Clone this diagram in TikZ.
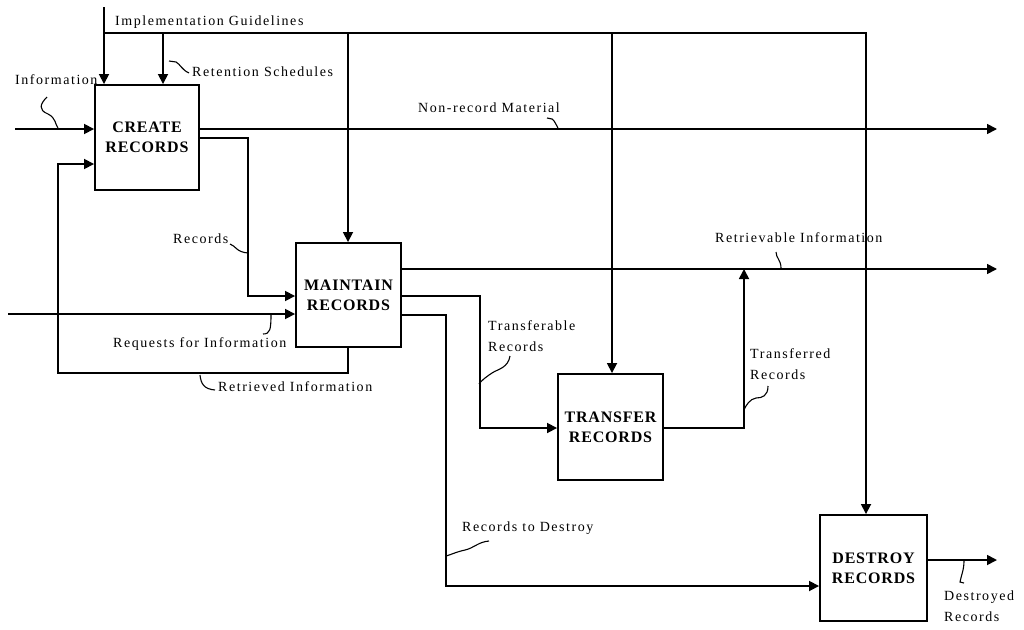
\documentclass[tikz,border=0pt]{standalone}
\usepackage{fontspec}
\setmainfont{Liberation Serif}
\newfontfamily\lblfont[LetterSpace=11]{Liberation Serif}
\newfontfamily\boxfont[LetterSpace=5]{Liberation Serif}
\usetikzlibrary{arrows.meta}
\begin{document}
\begin{tikzpicture}[x=1pt,y=-1pt,
  proc/.style={draw,line width=1.9pt,inner sep=0pt,align=center,
    font=\boxfont\bfseries\fontsize{16}{20}\selectfont},
  flow/.style={draw,line width=1.7pt,-{Triangle[length=10pt,width=10pt]}},
  squig/.style={draw,line width=1.1pt},
  lbl/.style={inner sep=0pt,anchor=west,align=left,
    font=\lblfont\fontsize{14}{21}\selectfont}]
\useasboundingbox (0,0) rectangle (1024,629);

% boxes
\node[proc,minimum width=104pt,minimum height=105pt] (create) at (147,137.5) {CREATE\\RECORDS};
\node[proc,minimum width=105pt,minimum height=104pt] (maintain) at (348.5,295) {MAINTAIN\\RECORDS};
\node[proc,minimum width=105pt,minimum height=106pt] (transfer) at (610.5,427) {TRANSFER\\RECORDS};
\node[proc,minimum width=107pt,minimum height=106pt] (destroy) at (873.5,568) {DESTROY\\RECORDS};

% coordinates
\coordinate (igtop) at (104,7);
\coordinate (ig1) at (104,33);
\coordinate (ig2) at (163,33);
\coordinate (ig3) at (348,33);
\coordinate (ig4) at (612,33);
\coordinate (ig5) at (866,33);
\coordinate (infoin) at (15,129);
\coordinate (nrmout) at (997,129);
\coordinate (recA) at (248,138);
\coordinate (recB) at (248,296);
\coordinate (reqin) at (8,314);
\coordinate (retA) at (348,373);
\coordinate (retB) at (58,373);
\coordinate (retC) at (58,164);
\coordinate (rivout) at (997,269);
\coordinate (trA) at (480,296);
\coordinate (trB) at (480,428);
\coordinate (tdA) at (744,428);
\coordinate (tdB) at (744,269);
\coordinate (rdA) at (446,315);
\coordinate (rdB) at (446,586);
\coordinate (dout) at (997,560);

% controls
\draw[flow] (igtop) -- (create.north -| igtop);
\draw[flow] (ig1) -- (ig5) -- (destroy.north -| ig5);
\draw[flow] (ig2) -- (create.north -| ig2);
\draw[flow] (ig3) -- (maintain.north -| ig3);
\draw[flow] (ig4) -- (transfer.north -| ig4);

% flows
\draw[flow] (infoin) -- (create.west |- infoin);
\draw[flow] (create.east |- nrmout) -- (nrmout);
\draw[flow] (create.east |- recA) -- (recA) -- (recB) -- (maintain.west |- recB);
\draw[flow] (reqin) -- (maintain.west |- reqin);
\draw[flow] (maintain.south -| retA) -- (retA) -- (retB) -- (retC) -- (create.west |- retC);
\draw[flow] (maintain.east |- rivout) -- (rivout);
\draw[flow] (maintain.east |- trA) -- (trA) -- (trB) -- (transfer.west |- trB);
\draw[flow] (transfer.east |- tdA) -- (tdA) -- (tdB);
\draw[flow] (maintain.east |- rdA) -- (rdA) -- (rdB) -- (destroy.west |- rdB);
\draw[flow] (destroy.east |- dout) -- (dout);

% labels
\node[lbl] (lig) at (115,22) {Implementation Guidelines};
\node[lbl] (lrs) at (192,72) {Retention Schedules};
\node[lbl] (linf) at (15,80) {Information};
\node[lbl] (lnrm) at (418,108) {Non-record Material};
\node[lbl] (lrec) at (173,239) {Records};
\node[lbl] (lreq) at (113,344) {Requests for Information};
\node[lbl] (lret) at (218,387) {Retrieved Information};
\node[lbl] (lriv) at (715,238) {Retrievable Information};
\node[lbl] (ltra) at (488,336.5) {Transferable\\Records};
\node[lbl] (ltrd) at (750,364) {Transferred\\Records};
\node[lbl] (lrtd) at (462,528) {Records to Destroy};
\node[lbl] (ldes) at (944,606.5) {Destroyed\\Records};

% squiggles
\draw[squig] (47,97) .. controls (40,104) and (38,110) .. (48,114) .. controls (56,118) and (55,124) .. (58,128);
\draw[squig] (169,61) -- (176,62) .. controls (180,64) and (182,70) .. (189,73);
\draw[squig] (547,118) -- (552,119) .. controls (555,121) and (556,125) .. (558,128);
\draw[squig] (230,244) .. controls (236,246) and (236,252) .. (248,253);
\draw[squig] (263,334) .. controls (270,334) and (271,330) .. (271,314);
\draw[squig] (200,375) .. controls (201,384) and (204,389) .. (215,390);
\draw[squig] (776,252) .. controls (776,258) and (781,260) .. (781,268);
\draw[squig] (510,356) .. controls (508,368) and (498,369) .. (492,373) .. controls (486,377) and (482,380) .. (479,384);
\draw[squig] (768,386) .. controls (768,396) and (762,398) .. (756,398) .. controls (750,399) and (746,405) .. (744,410);
\draw[squig] (489,541) .. controls (478,542) and (474,548) .. (465,550) .. controls (456,552) and (450,555) .. (446,556);
\draw[squig] (964,561) .. controls (964,570) and (961,576) .. (960,582) -- (964,583);
\end{tikzpicture}
\end{document}
